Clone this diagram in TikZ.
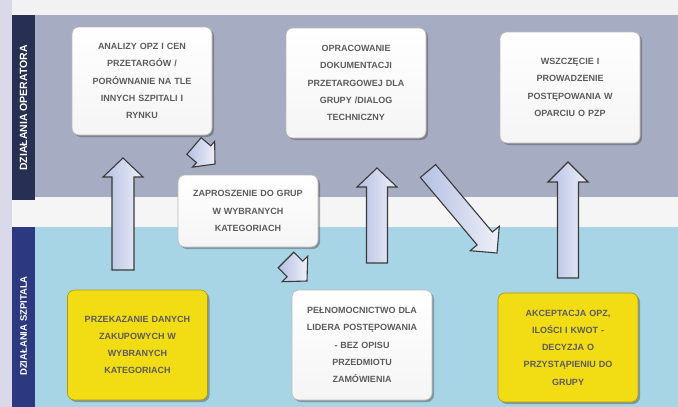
\documentclass[tikz,border=0pt]{standalone}
\usepackage{fontspec}
\setmainfont{Liberation Sans}
\usetikzlibrary{calc,shadows}
\definecolor{opband}{HTML}{A6ACC2}
\definecolor{hsband}{HTML}{A8D5E6}
\definecolor{opstrip}{HTML}{272F52}
\definecolor{hsstrip}{HTML}{2C3880}
\definecolor{pagebg}{HTML}{F2F2F4}
\definecolor{margin}{HTML}{D9D9EA}
\definecolor{boxtext}{HTML}{5C5C5C}
\definecolor{yel}{HTML}{F2DC14}
\definecolor{arrowline}{HTML}{3A3A3A}
\definecolor{arrowA}{HTML}{B4BFE3}
\definecolor{arrowB}{HTML}{EEF0F8}
\tikzset{
  procbox/.style={rounded corners=7pt, draw=gray!55, line width=0.6pt,
    text width=130pt, inner xsep=5pt, inner ysep=0pt, minimum height=110pt,
    align=center, text=boxtext,
    font=\fontsize{9}{17.2}\selectfont\bfseries,
    drop shadow={shadow xshift=2pt, shadow yshift=-2pt, opacity=0.45, fill=black!70}},
  whitebox/.style={procbox, top color=white, bottom color=gray!8},
  yellowbox/.style={procbox, fill=yel, draw=yel!70!black},
  barrow/.style={draw=arrowline, line width=1.1pt, line join=miter,
    left color=arrowA, right color=arrowB},
  striplabel/.style={text=white, font=\fontsize{10}{12}\selectfont\bfseries, rotate=90, inner sep=0pt}
}
\newcommand\blockarrow[6]{%
  \coordinate (#6h) at ($(#2)!#5!(#1)$);
  \draw[barrow] ($(#1)!#3!90:(#2)$) -- ($(#6h)!#3!90:(#2)$) -- ($(#6h)!#4!90:(#2)$)
    -- (#2) -- ($(#6h)!#4!-90:(#2)$) -- ($(#6h)!#3!-90:(#2)$) -- ($(#1)!#3!-90:(#2)$) -- cycle;
}
\begin{document}
\begin{tikzpicture}[x=1pt,y=-1pt]
\useasboundingbox (0,0) rectangle (678,407);
% backgrounds
\fill[pagebg] (0,0) rectangle (678,407);
\fill[margin] (0,0) rectangle (12,407);
\fill[opband] (12,15) rectangle (678,197);
\fill[white!92!gray] (12,197) rectangle (678,227);
\fill[hsband] (12,227) rectangle (678,407);
\fill[opstrip] (12,15) rectangle (35,200);
\fill[hsstrip] (12,227) rectangle (35,407);
\node[striplabel, font=\fontsize{10.5}{12}\selectfont\bfseries] (lop) at (23.5,108) {DZIAŁANIA OPERATORA};
\node[striplabel, font=\fontsize{9.5}{12}\selectfont\bfseries] (lhs) at (23.5,326) {DZIAŁANIA SZPITALA};
% boxes
\node[whitebox, minimum height=108pt] (A) at (142,81) {ANALIZY OPZ I CEN\\PRZETARGÓW /\\PORÓWNANIE NA TLE\\INNYCH SZPITALI I\\RYNKU};
\node[whitebox] (B) at (356,83) {OPRACOWANIE\\DOKUMENTACJI\\PRZETARGOWEJ DLA\\GRUPY /DIALOG\\TECHNICZNY};
\node[whitebox, minimum height=111pt] (C) at (570,87.5) {WSZCZĘCIE I\\PROWADZENIE\\POSTĘPOWANIA W\\OPARCIU O PZP};
\node[whitebox, minimum height=72pt] (D) at (248,211) {ZAPROSZENIE DO GRUP\\W WYBRANYCH\\KATEGORIACH};
\node[yellowbox] (E) at (137.5,345) {PRZEKAZANIE DANYCH\\ZAKUPOWYCH W\\WYBRANYCH\\KATEGORIACH};
\node[whitebox] (F) at (362,345) {PEŁNOMOCNICTWO DLA\\LIDERA POSTĘPOWANIA\\- BEZ OPISU\\PRZEDMIOTU\\ZAMÓWIENIA};
\node[yellowbox, minimum height=109pt] (G) at (568,347.5) {AKCEPTACJA OPZ,\\ILOŚCI I KWOT -\\DECYZJA O\\PRZYSTĄPIENIU DO\\GRUPY};
% arrow end points
\coordinate (a1s) at (123,270); \coordinate (a1e) at (123,158);
\coordinate (a2s) at (194,146); \coordinate (a2e) at (215,164);
\coordinate (a3s) at (286,260); \coordinate (a3e) at (307,281);
\coordinate (a4s) at (377,263); \coordinate (a4e) at (377,168);
\coordinate (a5s) at (428,171); \coordinate (a5e) at (497,253);
\coordinate (a6s) at (568,278); \coordinate (a6e) at (568,162);
\blockarrow{a1s}{a1e}{11pt}{20pt}{19pt}{ar1}
\blockarrow{a2s}{a2e}{11pt}{17pt}{15pt}{ar2}
\blockarrow{a3s}{a3e}{11pt}{18pt}{17pt}{ar3}
\blockarrow{a4s}{a4e}{10.5pt}{20pt}{19pt}{ar4}
\blockarrow{a5s}{a5e}{10pt}{19pt}{19pt}{ar5}
\blockarrow{a6s}{a6e}{10.5pt}{20pt}{20pt}{ar6}
\end{tikzpicture}
\end{document}
